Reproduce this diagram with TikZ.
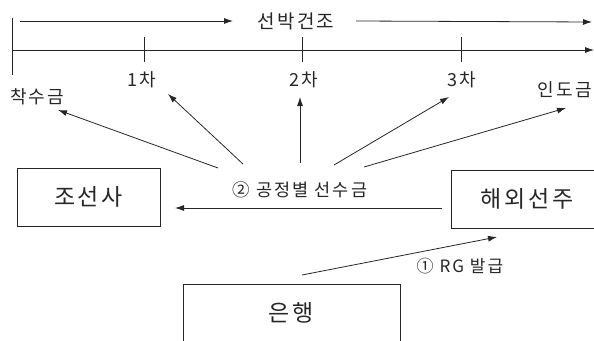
\documentclass[tikz,border=0pt]{standalone}
\usepackage{fontspec}
\newfontfamily\kr[LetterSpace=12]{Noto Sans CJK KR}
\usetikzlibrary{arrows.meta}
\begin{document}
\begin{tikzpicture}[x=1pt,y=-1pt,
  ln/.style={draw=black!85, line width=0.8pt},
  arr/.style={ln, -{Latex[length=9pt,width=6pt]}},
  box/.style={draw=black!85, line width=0.8pt, inner sep=0pt, minimum height=58pt,
    font=\kr\fontsize{23}{23}\selectfont, text=black!85},
  lbl/.style={inner sep=0pt, font=\kr\fontsize{18}{18}\selectfont, text=black!85}]
\useasboundingbox (0,0) rectangle (594,340);
\clip (0,0) rectangle (594,340);
% timeline
\node[lbl, font=\kr\fontsize{19}{19}\selectfont] (title) at (296,21) {선박건조};
\coordinate (ta) at (20,21);
\coordinate (tb) at (592,22);
\draw[arr] (ta) -- (title.west -| 233,21);
\draw[arr] (title.east -| 356,22) -- (tb);
\coordinate (v0) at (12,18);
\coordinate (v1) at (12,75);
\draw[ln] (v0) -- (v1);
\coordinate (m0) at (12,50);
\coordinate (m1) at (594,50);
\draw[arr] (m0) -- (m1);
\foreach \n/\x in {a/144,b/302,c/461}{
  \coordinate (tk\n0) at (\x,37);
  \coordinate (tk\n1) at (\x,62);
  \draw[ln] (tk\n0) -- (tk\n1);
}
\node[lbl] (l0) at (37,97) {착수금};
\node[lbl] (l1) at (142,80) {1차};
\node[lbl] (l2) at (304,80) {2차};
\node[lbl] (l3) at (462,80) {3차};
\node[lbl, anchor=east] (l4) at (592,90) {인도금};
% progress payments
\node[lbl, font=\kr\fontsize{17.5}{17.5}\selectfont] (pay) at (300,190) {② 공정별 선수금};
\coordinate (s0) at (218,168); \coordinate (e0) at (58,110);
\coordinate (s1) at (243,164); \coordinate (e1) at (168,94);
\coordinate (s2) at (300,163); \coordinate (e2) at (300,97);
\coordinate (s3) at (334,165); \coordinate (e3) at (449,97);
\coordinate (s4) at (364,167); \coordinate (e4) at (566,108);
\foreach \i in {0,...,4}{ \draw[arr] (s\i) -- (e\i); }
% boxes
\node[box, minimum width=143pt] (js) at (88.5,197) {조선사};
\node[box, minimum width=152pt] (hs) at (527,199) {해외선주};
\node[box, minimum width=217pt] (bk) at (291.5,313) {은행};
\coordinate (h0) at (442,208);
\coordinate (h1) at (175,208);
\draw[arr] (h0) -- (h1);
\coordinate (r0) at (302,275);
\coordinate (r1) at (497,237);
\draw[arr] (r0) -- (r1);
\node[lbl, font=\kr\fontsize{17}{17}\selectfont] (rg) at (460,266) {① RG 발급};
\end{tikzpicture}
\end{document}
